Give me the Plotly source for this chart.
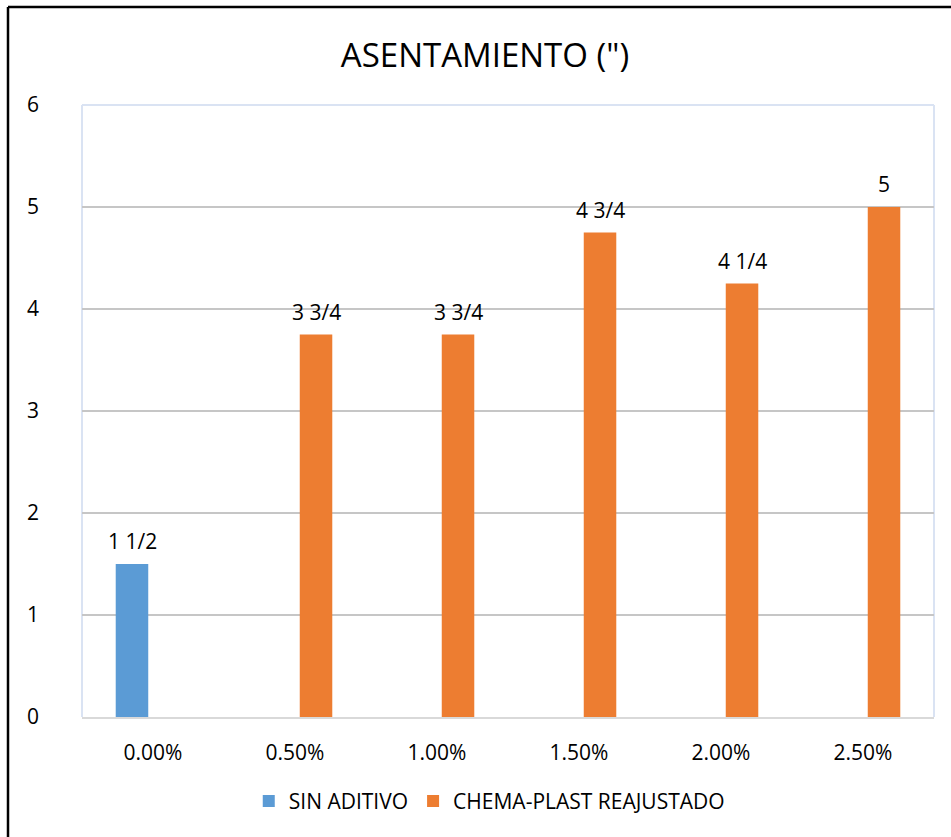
import plotly.graph_objects as go

categories = ["0.00%", "0.50%", "1.00%", "1.50%", "2.00%", "2.50%"]
sin_aditivo = [1.5, None, None, None, None, None]
chema_plast = [None, 3.75, 3.75, 4.75, 4.25, 5.0]
label_sin = ["1 1/2", "", "", "", "", ""]
label_chema = ["", "3 3/4", "3 3/4", "4 3/4", "4 1/4", "5"]
y_ticks = [0, 1, 2, 3, 4, 5, 6]

FONT = "Open Sans"
BLUE = "#5b9bd5"
ORANGE = "#ed7d31"

fig = go.Figure()
fig.add_trace(go.Bar(x=categories, y=sin_aditivo, name="SIN ADITIVO",
                     marker=dict(color=BLUE, line=dict(width=0))))
fig.add_trace(go.Bar(x=categories, y=chema_plast, name="CHEMA-PLAST REAJUSTADO",
                     marker=dict(color=ORANGE, line=dict(width=0))))

annotations = []
for cat, v, t in zip(categories, sin_aditivo, label_sin):
    if v is not None and t:
        annotations.append(dict(x=cat, y=v, text=t, showarrow=False, xref="x", yref="y",
                                xshift=-21, yshift=23, font=dict(size=21, color="#000000", family=FONT)))
for cat, v, t in zip(categories, chema_plast, label_chema):
    if v is not None and t:
        annotations.append(dict(x=cat, y=v, text=t, showarrow=False, xref="x", yref="y",
                                xshift=21, yshift=23, font=dict(size=21, color="#000000", family=FONT)))

fig.update_layout(
    width=951, height=837,
    margin=dict(l=82, r=17, t=105, b=120),
    paper_bgcolor="white", plot_bgcolor="white",
    barmode="group", bargap=0.408, bargroupgap=0.226,
    font=dict(family=FONT, size=21, color="#000000"),
    title=dict(text='ASENTAMIENTO (")', x=0.51, xanchor="center", y=1 - 55 / 837,
               yanchor="middle", font=dict(size=33, family=FONT, color="#000000")),
    showlegend=True,
    legend=dict(orientation="h", x=0.478, xanchor="center", y=-0.138, yanchor="middle",
                font=dict(size=21, family=FONT), traceorder="normal",
                itemsizing="constant"),
    annotations=annotations,
    xaxis=dict(showgrid=False, showline=True, linecolor="#d9d9d9", linewidth=2,
               ticks="", tickfont=dict(size=21), ticklabelstandoff=16),
    yaxis=dict(range=[0, 6], tickvals=y_ticks, showgrid=True, gridcolor="#c6c6c6",
               gridwidth=1.5, zeroline=False, showline=False, ticks="",
               tickfont=dict(size=21), ticklabelstandoff=42),
    shapes=[
        dict(type="line", xref="paper", yref="paper", x0=0, x1=0, y0=0, y1=1,
             line=dict(color="#dae3f3", width=2), layer="below"),
        dict(type="line", xref="paper", yref="paper", x0=0, x1=1, y0=1, y1=1,
             line=dict(color="#dae3f3", width=2), layer="below"),
        dict(type="line", xref="paper", yref="paper", x0=1, x1=1, y0=0, y1=1,
             line=dict(color="#dae3f3", width=2), layer="below"),
        dict(type="line", xref="paper", yref="paper", x0=(8 - 82) / 852, x1=(8 - 82) / 852,
             y0=(717 - 7) / 612, y1=(717 - 860) / 612, line=dict(color="#000000", width=2.5)),
        dict(type="line", xref="paper", yref="paper", x0=(8 - 82) / 852, x1=(980 - 82) / 852,
             y0=(717 - 7) / 612, y1=(717 - 7) / 612, line=dict(color="#000000", width=2.5)),
    ],
)

fig.write_html("out.html")
